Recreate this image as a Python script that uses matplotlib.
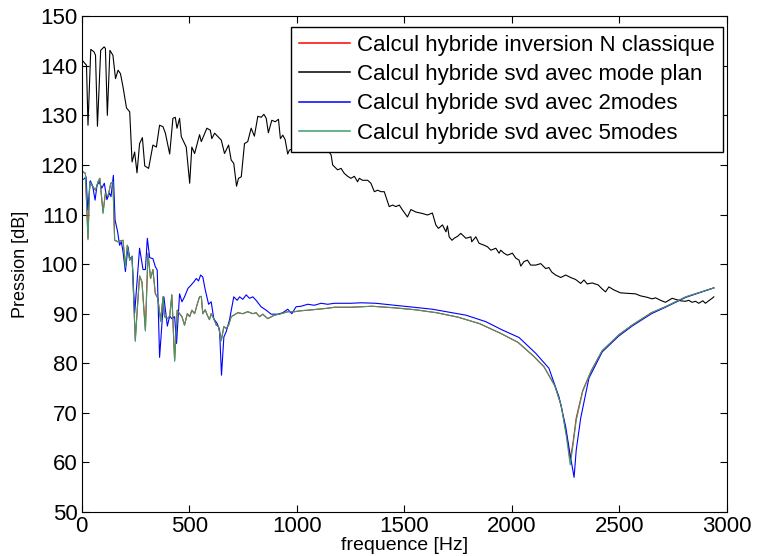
import matplotlib
matplotlib.use('Agg')
import matplotlib.pyplot as plt

plt.rcParams['font.family'] = ['Liberation Sans', 'DejaVu Sans']

# Calcul hybride svd avec mode plan (black)
freq_plan = [6, 22, 29, 42, 57, 64, 73, 88, 104, 110, 119, 131, 145, 157, 169, 180, 192, 208, 223,
             234, 246, 257, 269, 282, 293, 311, 331, 347, 362, 378, 389, 409, 424, 435, 443, 455,
             463, 486, 502, 512, 525, 548, 556, 582, 598, 605, 618, 649, 664, 683, 695, 707, 720,
             729, 742, 757, 772, 788, 803, 819, 835, 847, 858, 868, 884, 900, 915, 924, 935, 946,
             958, 966, 1000, 1050, 1100, 1144, 1160, 1167, 1183, 1190, 1206, 1221, 1237, 1252,
             1268, 1283, 1291, 1306, 1330, 1345, 1361, 1376, 1392, 1407, 1430, 1446, 1461, 1477,
             1492, 1515, 1531, 1554, 1585, 1608, 1631, 1647, 1659, 1678, 1694, 1701, 1709, 1722,
             1732, 1748, 1763, 1787, 1810, 1814, 1833, 1848, 1872, 1887, 1903, 1926, 1941, 1949,
             1964, 1980, 2003, 2019, 2034, 2042, 2057, 2073, 2088, 2112, 2135, 2158, 2173, 2186,
             2204, 2228, 2251, 2274, 2297, 2321, 2336, 2351, 2374, 2402, 2418, 2436, 2452, 2475,
             2506, 2545, 2576, 2599, 2630, 2653, 2669, 2692, 2715, 2731, 2746, 2762, 2785, 2808,
             2823, 2839, 2855, 2870, 2889, 2901, 2916, 2932, 2940]
p_plan = [140.9, 140.1, 128.0, 143.3, 142.8, 142.1, 127.8, 143.1, 143.8, 143.5, 130.0, 143.1, 142.1,
          137.4, 139.1, 138.4, 135.7, 131.5, 130.7, 120.6, 122.6, 118.4, 124.3, 125.5, 119.8, 119.3,
          124.0, 123.6, 128.0, 127.7, 126.4, 122.2, 129.4, 129.6, 127.4, 129.4, 125.7, 123.6, 116.3,
          123.6, 122.3, 126.1, 124.7, 127.4, 127.0, 125.3, 126.4, 125.0, 122.3, 124.0, 121.0, 120.3,
          115.7, 117.3, 117.6, 124.3, 124.7, 127.4, 125.8, 129.8, 129.6, 130.2, 129.4, 126.5, 129.0,
          128.7, 129.2, 125.3, 126.0, 125.1, 122.2, 123.0, 123.5, 124.0, 123.5, 123.0, 122.0, 120.0,
          119.3, 119.0, 119.3, 118.3, 117.7, 117.3, 117.7, 116.6, 117.3, 116.9, 116.9, 116.3, 114.6,
          114.9, 114.6, 114.6, 111.6, 111.9, 111.6, 111.9, 110.9, 109.5, 111.0, 110.5, 110.2, 109.9,
          110.3, 107.9, 107.2, 107.9, 106.5, 107.7, 105.5, 104.8, 105.2, 105.6, 106.2, 105.2, 105.5,
          104.5, 105.5, 104.2, 103.8, 103.5, 102.8, 103.2, 102.2, 102.8, 102.2, 101.8, 102.2, 101.2,
          100.8, 99.6, 100.5, 100.8, 99.8, 99.8, 100.1, 99.1, 99.3, 98.4, 97.8, 97.3, 97.8, 97.3,
          96.9, 96.1, 96.8, 96.0, 96.2, 95.8, 95.1, 94.4, 95.4, 94.8, 94.2, 94.1, 94.0, 93.6, 93.3,
          93.0, 93.2, 92.7, 92.3, 92.7, 93.1, 92.9, 92.6, 92.5, 92.7, 92.3, 92.5, 92.1, 92.6, 92.1,
          92.6, 93.1, 93.4]

# Calcul hybride svd avec 2modes (blue)
freq_2m = [9, 20, 28, 40, 51, 62, 71, 82, 93, 105, 117, 129, 136, 147, 155, 167, 176, 184, 192, 203,
           215, 223, 234, 246, 269, 285, 296, 305, 316, 331, 342, 351, 362, 373, 382, 398, 409, 419,
           432, 441, 455, 466, 478, 494, 509, 521, 533, 543, 553, 563, 574, 590, 602, 614, 630, 641,
           650, 661, 672, 687, 707, 723, 734, 749, 765, 780, 796, 811, 834, 858, 881, 912, 935, 958,
           977, 997, 1020, 1051, 1082, 1113, 1144, 1175, 1250, 1300, 1368, 1477, 1523, 1631, 1787,
           1879, 1957, 2034, 2112, 2173, 2220, 2251, 2270, 2290, 2300, 2321, 2359, 2421, 2498, 2560,
           2650, 2715, 2810, 2940]
p_2m = [117.1, 117.6, 110.9, 116.8, 115.7, 112.9, 115.9, 116.6, 115.3, 116.3, 113.0, 114.3, 113.6,
        117.9, 108.9, 106.5, 103.8, 104.5, 102.5, 98.5, 103.5, 101.1, 101.5, 90.1, 103.2, 98.9, 98.9,
        105.2, 101.3, 101.1, 99.5, 98.8, 81.2, 88.0, 93.4, 87.5, 89.5, 89.0, 89.4, 84.0, 94.0, 92.4,
        93.4, 95.1, 95.8, 96.4, 97.1, 96.6, 97.8, 97.4, 94.9, 91.9, 92.4, 89.0, 88.0, 86.7, 77.6,
        85.3, 86.4, 88.7, 93.4, 92.7, 93.4, 92.9, 93.8, 93.1, 93.4, 92.7, 91.4, 90.7, 89.9, 89.9,
        90.2, 90.9, 90.0, 91.4, 91.5, 91.9, 91.7, 92.1, 91.9, 92.1, 92.1, 92.2, 92.1, 91.6, 91.4,
        90.9, 89.7, 88.4, 86.7, 85.2, 82.0, 79.0, 73.2, 67.2, 62.0, 57.0, 62.5, 69.0, 77.0, 82.3,
        85.5, 87.5, 90.0, 91.3, 93.3, 95.2]

# Calcul hybride inversion N classique (red) / svd avec 5modes (green)
freq_n = [6, 17, 29, 37, 52, 64, 76, 84, 99, 110, 122, 135, 145, 153, 169, 181, 192, 203, 212, 223,
          234, 249, 259, 269, 280, 296, 308, 320, 331, 342, 354, 367, 378, 385, 398, 409, 419, 432,
          444, 455, 466, 478, 491, 502, 512, 525, 537, 548, 556, 563, 574, 584, 594, 602, 614, 626,
          636, 649, 661, 672, 683, 695, 707, 726, 749, 772, 796, 811, 827, 842, 865, 896, 927, 958,
          989, 1020, 1051, 1097, 1144, 1175, 1250, 1350, 1450, 1550, 1650, 1750, 1850, 1950, 2030,
          2100, 2150, 2200, 2230, 2255, 2272, 2285, 2300, 2330, 2370, 2420, 2500, 2560, 2650, 2715,
          2810, 2940]
p_classique = [118.6, 118.3, 105.2, 116.6, 115.6, 114.9, 116.6, 117.3, 110.5, 114.3, 113.6, 116.3,
               116.6, 104.8, 104.5, 104.7, 104.8, 99.5, 103.8, 100.8, 101.6, 84.7, 91.4, 97.6, 96.4,
               86.7, 102.2, 97.1, 98.9, 94.1, 93.1, 88.6, 93.4, 89.4, 89.0, 89.5, 93.8, 80.6, 90.7,
               90.0, 89.4, 87.7, 90.0, 89.4, 90.7, 90.0, 91.9, 93.4, 93.5, 90.0, 90.8, 89.7, 88.8,
               90.0, 89.0, 87.7, 87.4, 84.7, 87.4, 87.0, 87.7, 89.4, 89.7, 90.2, 90.0, 90.4, 90.0,
               90.2, 89.4, 89.9, 89.0, 89.7, 90.0, 90.4, 90.4, 90.6, 90.7, 90.9, 91.1, 91.3, 91.3,
               91.5, 91.2, 90.8, 90.2, 89.3, 88.0, 86.0, 84.2, 81.5, 79.3, 75.5, 71.5, 65.5, 60.5,
               64.0, 69.0, 74.5, 78.5, 82.5, 85.8, 87.7, 90.2, 91.4, 93.4, 95.2]
p_5modes = [118.6, 118.3, 104.9, 116.6, 115.6, 114.9, 116.6, 117.3, 110.2, 114.3, 113.6, 116.3,
            116.6, 104.8, 104.5, 104.7, 104.8, 99.3, 103.8, 100.8, 101.6, 84.4, 91.4, 97.6, 96.4,
            86.5, 102.2, 97.1, 98.9, 94.1, 93.1, 88.4, 93.4, 89.4, 89.0, 89.5, 93.8, 80.4, 90.7,
            90.0, 89.4, 87.7, 90.0, 89.4, 90.7, 90.0, 91.9, 93.4, 93.5, 90.0, 90.8, 89.7, 88.8,
            90.0, 89.0, 87.7, 87.4, 84.5, 87.4, 87.0, 87.7, 89.4, 89.7, 90.2, 90.0, 90.4, 90.0,
            90.2, 89.4, 89.9, 89.0, 89.7, 90.0, 90.4, 90.4, 90.6, 90.7, 90.9, 91.1, 91.3, 91.3,
            91.5, 91.2, 90.8, 90.2, 89.3, 88.0, 86.0, 84.2, 81.5, 79.3, 75.5, 71.5, 65.0, 59.5,
            63.5, 68.5, 74.3, 78.5, 82.5, 85.8, 87.7, 90.2, 91.4, 93.4, 95.2]

labels = ['Calcul hybride inversion N classique',
          'Calcul hybride svd avec mode plan',
          'Calcul hybride svd avec 2modes',
          'Calcul hybride svd avec 5modes']

fig = plt.figure(figsize=(7.57, 5.56), dpi=100)
ax = fig.add_axes([0.108, 0.079, 0.852, 0.892])

lw = 0.8
ax.plot(freq_n, p_classique, color='#ff0000', lw=lw, label=labels[0])
ax.plot(freq_plan, p_plan, color='black', lw=lw, label=labels[1])
ax.plot(freq_2m, p_2m, color='#0000ff', lw=lw, label=labels[2])
ax.plot(freq_n, p_5modes, color='#3a9e6c', lw=lw, label=labels[3])

ax.set_xlim(0, 3000)
ax.set_ylim(50, 150)
ax.set_xticks(range(0, 3001, 500))
ax.set_yticks(range(50, 151, 10))
ax.tick_params(direction='in', top=True, right=True, length=5, labelsize=16, pad=3)
ax.set_xlabel('frequence [Hz]', fontsize=14, labelpad=0)
ax.set_ylabel('Pression [dB]', fontsize=13, labelpad=8.5)

leg = ax.legend(loc='upper right', bbox_to_anchor=(0.994, 0.978), fontsize=16,
                frameon=True, fancybox=False, framealpha=1, handlelength=2.3,
                borderaxespad=0, labelspacing=0.37, handletextpad=0.3, borderpad=0.36)
leg.get_frame().set_edgecolor('black')
leg.get_frame().set_linewidth(1.0)
for line in leg.get_lines():
    line.set_linewidth(1.1)

fig.savefig('out.png', dpi=100)
